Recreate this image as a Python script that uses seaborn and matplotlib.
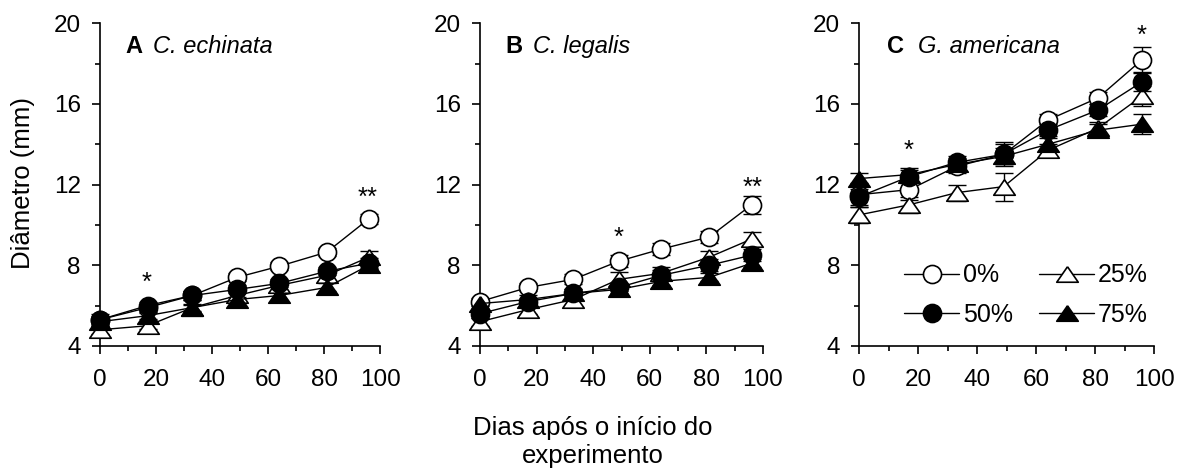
import numpy as np
import pandas as pd
import matplotlib
matplotlib.use("Agg")
import matplotlib.pyplot as plt
from matplotlib.ticker import MultipleLocator
import seaborn as sns

# ---------------- data ----------------
days = [0, 17, 33, 49, 64, 81, 96]
treatments = ["0%", "25%", "50%", "75%"]

# Panel A: C. echinata (mean diameter, mm)
A_0 = [5.3, 5.9, 6.5, 7.4, 7.95, 8.65, 10.3]
A_25 = [4.8, 5.0, 5.9, 6.5, 7.0, 7.5, 8.4]
A_50 = [5.3, 6.0, 6.5, 6.8, 7.1, 7.7, 8.1]
A_75 = [5.2, 5.5, 5.9, 6.3, 6.5, 6.9, 8.0]
A_0_se = [0.3, 0.2, 0.2, 0.2, 0.2, 0.2, 0.25]
A_25_se = [0.2, 0.15, 0.2, 0.2, 0.25, 0.3, 0.3]
A_50_se = [0.2, 0.2, 0.2, 0.2, 0.2, 0.2, 0.25]
A_75_se = [0.15, 0.15, 0.15, 0.15, 0.2, 0.2, 0.2]

# Panel B: C. legalis
B_0 = [6.2, 6.9, 7.3, 8.2, 8.8, 9.4, 11.0]
B_25 = [5.2, 5.8, 6.3, 7.3, 7.6, 8.4, 9.3]
B_50 = [5.6, 6.2, 6.6, 6.9, 7.5, 8.0, 8.5]
B_75 = [6.1, 6.3, 6.6, 6.8, 7.2, 7.4, 8.1]
B_0_se = [0.2, 0.2, 0.25, 0.3, 0.3, 0.3, 0.45]
B_25_se = [0.2, 0.2, 0.25, 0.35, 0.3, 0.3, 0.35]
B_50_se = [0.2, 0.2, 0.2, 0.2, 0.25, 0.3, 0.3]
B_75_se = [0.2, 0.2, 0.2, 0.2, 0.2, 0.2, 0.2]

# Panel C: G. americana
C_0 = [11.5, 11.75, 12.9, 13.5, 15.2, 16.3, 18.2]
C_25 = [10.5, 11.0, 11.6, 11.9, 13.7, 14.8, 16.4]
C_50 = [11.4, 12.4, 13.1, 13.5, 14.7, 15.7, 17.1]
C_75 = [12.3, 12.5, 13.0, 13.4, 14.0, 14.7, 15.0]
C_0_se = [0.6, 0.5, 0.3, 0.6, 0.3, 0.3, 0.6]
C_25_se = [0.4, 0.4, 0.4, 0.7, 0.3, 0.3, 0.5]
C_50_se = [0.4, 0.3, 0.3, 0.5, 0.3, 0.3, 0.45]
C_75_se = [0.3, 0.3, 0.3, 0.4, 0.3, 0.3, 0.5]

panel_letters = ["A", "B", "C"]
species = ["C. echinata", "C. legalis", "G. americana"]
ylabel = "Diâmetro (mm)"
xlabel = "Dias após o início do\nexperimento"
yticks = [4, 8, 12, 16, 20]
xticks = [0, 20, 40, 60, 80, 100]

# significance marks: (day, baseline y, text)
A_sig = [(16.6, 6.78, "*"), (95.4, 11.0, "**")]
B_sig = [(48.9, 9.01, "*"), (96.3, 11.49, "**")]
C_sig = [(16.6, 13.31, "*"), (95.7, 19.02, "*")]

panels = [
    ([A_0, A_25, A_50, A_75], [A_0_se, A_25_se, A_50_se, A_75_se], A_sig),
    ([B_0, B_25, B_50, B_75], [B_0_se, B_25_se, B_50_se, B_75_se], B_sig),
    ([C_0, C_25, C_50, C_75], [C_0_se, C_25_se, C_50_se, C_75_se], C_sig),
]

# ---------------- style ----------------
sns.set_style("ticks")
plt.rcParams["font.family"] = ["Liberation Sans", "DejaVu Sans"]
plt.rcParams["axes.linewidth"] = 1.2
for k in ["text.color", "axes.labelcolor", "xtick.color", "ytick.color",
          "axes.edgecolor"]:
    plt.rcParams[k] = "black"

tri = [(0, 0.72), (-1, -0.72), (1, -0.72), (0, 0.72)]
styles = {
    "0%": dict(marker="o", mfc="white", ms=13),
    "25%": dict(marker=tri, mfc="white", ms=15.5),
    "50%": dict(marker="o", mfc="black", ms=13),
    "75%": dict(marker=tri, mfc="black", ms=15.5),
}

fig = plt.figure(figsize=(11.86, 4.75), dpi=100)
W, H = 1186, 475
top_px, bot_px = 23.3, 345.9
ax_px = [(100, 380), (480, 763), (859.3, 1154)]

for i, ((series, ses, sigs), (l, r)) in enumerate(zip(panels, ax_px)):
    ax = fig.add_axes([l / W, (H - bot_px) / H, (r - l) / W, (bot_px - top_px) / H])
    for t, vals, se in zip(treatments, series, ses):
        df = pd.DataFrame({"day": days, "diam": vals})
        ax.errorbar(days, vals, yerr=se, fmt="none", ecolor="black",
                    elinewidth=1.0, capsize=6.5, capthick=1.0, zorder=2,
                    clip_on=False)
        st = styles[t]
        sns.lineplot(data=df, x="day", y="diam", ax=ax, color="black",
                     lw=1.0, marker=st["marker"], markersize=st["ms"],
                     markerfacecolor=st["mfc"], markeredgecolor="black",
                     markeredgewidth=1.2, label=t, zorder=3, clip_on=False,
                     legend=False)
    for (xd, yd, s) in sigs:
        ax.text(xd, yd, s, ha="center", va="baseline", fontsize=18.5)
    ax.set_xlim(0, 100)
    ax.set_ylim(4, 20)
    ax.set_xticks(xticks)
    ax.set_yticks(yticks)
    ax.xaxis.set_minor_locator(MultipleLocator(10))
    ax.yaxis.set_minor_locator(MultipleLocator(2))
    ax.tick_params(axis="both", which="major", direction="out", length=5.8,
                   width=1.2, labelsize=17.5, color="black")
    ax.tick_params(axis="both", which="minor", direction="out", length=3.6,
                   width=1.2, color="black")
    ax.tick_params(axis="x", which="major", pad=11)
    ax.tick_params(axis="y", which="major", pad=8)
    ax.set_xlabel("")
    ax.set_ylabel("")
    sns.despine(ax=ax)
    # panel titles
    lx = [0.089, 0.088, 0.093][i]
    sx = [0.189, 0.187, 0.199][i]
    ax.text(lx, 0.908, panel_letters[i], transform=ax.transAxes, fontsize=17,
            fontweight="bold", va="baseline", ha="left")
    ax.text(sx, 0.908, species[i], transform=ax.transAxes, fontsize=17,
            fontstyle="italic", va="baseline", ha="left")
    if i == 2:
        h, lab = ax.get_legend_handles_labels()
        order = [0, 2, 1, 3]
        ax.legend([h[k] for k in order], [lab[k] for k in order], ncol=2,
                  loc="center", bbox_to_anchor=(1026 / W, 1 - 295 / H),
                  bbox_transform=fig.transFigure, frameon=False,
                  fontsize=18, handlelength=2.2, handletextpad=0.15,
                  columnspacing=1.05, labelspacing=0.6, borderpad=0)

fig.text(23 / W, 1 - 183 / H, ylabel, rotation=90, ha="center", va="center",
         fontsize=18.5)
fig.text(593 / W, 1 - 416 / H, xlabel, ha="center", va="top", fontsize=18.5,
         linespacing=1.2)

fig.savefig("out.png", dpi=100)
